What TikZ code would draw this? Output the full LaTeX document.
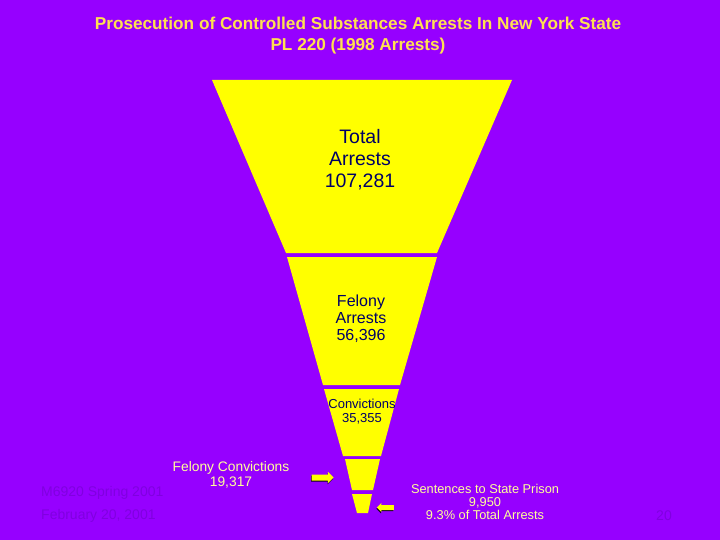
\documentclass[tikz,border=0pt]{standalone}
\usepackage{fontspec}
\setmainfont{Liberation Sans}
\usetikzlibrary{shapes.arrows,shadows,positioning}
\definecolor{SlidePurple}{HTML}{9600FF}
\definecolor{FunnelYellow}{HTML}{FFFF00}
\definecolor{TitleYellow}{HTML}{FFE050}
\definecolor{LabelYellow}{HTML}{FFFF99}
\definecolor{InkNavy}{HTML}{000066}
\definecolor{FootPurple}{HTML}{8000E0}

\begin{document}
\begin{tikzpicture}[
    x=1pt, y=-1pt,
    % funnel slices and their captions
    band/.style={fill=FunnelYellow, draw=none},
    bandtext/.style={text=InkNavy, align=center, inner sep=0pt},
    note/.style={text=LabelYellow, align=center, inner sep=0pt},
    foot/.style={text=FootPurple, inner sep=0pt, font=\fontsize{14}{16}\selectfont},
    % small block arrows beside the funnel tip
    pointer/.style={single arrow, fill=FunnelYellow, inner xsep=0pt, inner ysep=2.8pt,
        single arrow head extend=2.6pt,
        drop shadow={shadow xshift=-0.4pt, shadow yshift=-1.2pt, fill=black, opacity=0.9}}
]
\fill[SlidePurple] (0,0) rectangle (720,540);
\useasboundingbox (0,0) rectangle (720,540);

% title
\node[text=TitleYellow, align=center, inner sep=0pt,
    font=\fontsize{17.2}{21}\selectfont\bfseries] (title) at (358,35.5)
    {Prosecution of Controlled Substances Arrests In New York State\\PL 220 (1998 Arrests)};

% funnel, top to bottom
\fill[band] (212,80) -- (512,80) -- (437,253) -- (286,253) -- cycle;
\fill[band] (287,257) -- (437,257) -- (400,385) -- (323,385) -- cycle;
\fill[band] (324,389) -- (399,389) -- (381,456) -- (343,456) -- cycle;
\fill[band] (345,459) -- (380,459) -- (373,490) -- (352,490) -- cycle;
\fill[band] (352,494) -- (372,494) -- (368,513) -- (357,513) -- cycle;

\node[bandtext, font=\fontsize{19.5}{22}\selectfont] (total) at (360,160) {Total\\Arrests\\107,281};
\node[bandtext, font=\fontsize{16}{17}\selectfont] (felarr) at (361,319) {Felony\\Arrests\\56,396};
\node[bandtext, font=\fontsize{13}{14}\selectfont] (conv) at (362,412) {Convictions\\35,355};

% pointers to the two lowest slices
\node[pointer, minimum height=22pt] (ptrconv) at (321,477.5) {};
\node[pointer, minimum height=17pt, inner ysep=2.3pt, single arrow head extend=2.2pt,
    shape border rotate=180] (ptrprison) at (386.5,507.5) {};

\node[note, font=\fontsize{13.8}{15}\selectfont] (felconv) at (231,475) {Felony Convictions\\19,317};
\node[note, font=\fontsize{12.8}{13}\selectfont] (prison) at (485,502) {Sentences to State Prison\\9,950\\9.3\% of Total Arrests};

% footer
\node[foot, anchor=west] (course) at (41,493) {M6920 Spring 2001};
\node[foot, anchor=west] (date) at (41,516) {February 20, 2001};
\node[foot] (page) at (664,516) {20};
\end{tikzpicture}
\end{document}
